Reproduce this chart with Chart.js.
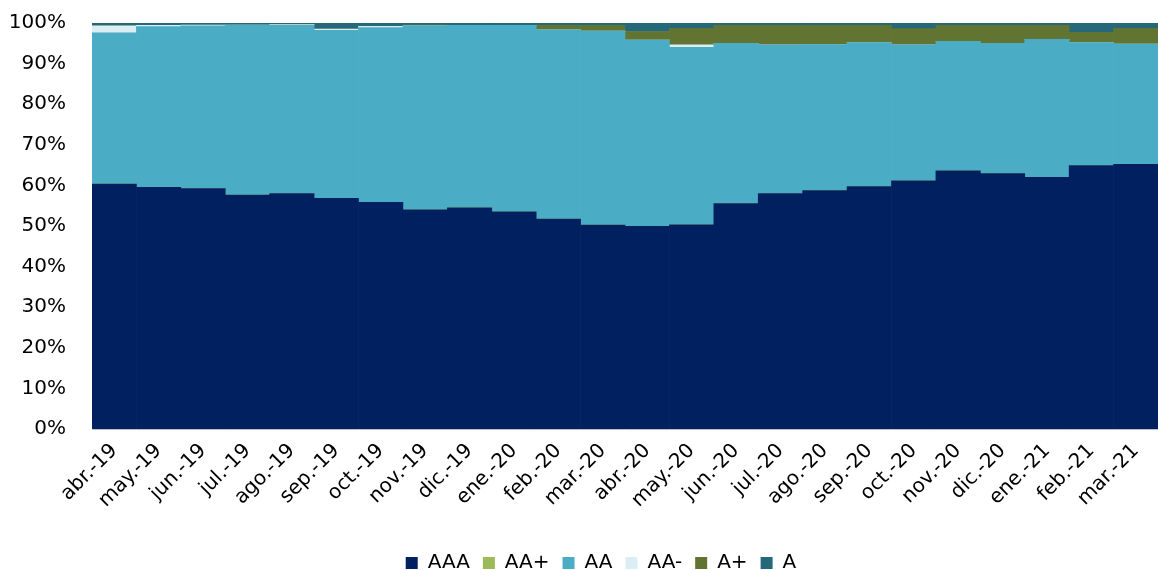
<!DOCTYPE html>
<html lang="es">
<head>
<meta charset="utf-8">
<title>Distribución por calificación</title>
<script src="https://cdn.jsdelivr.net/npm/chart.js@4/dist/chart.umd.min.js"></script>
<style>
  html, body { margin: 0; padding: 0; background: #fff; }
  #contenedor { width: 1158px; height: 570px; position: relative; }
</style>
</head>
<body>
<div id="contenedor"><canvas id="miGrafica"></canvas></div>
<script>
'use strict'

// MESES (EJE X)
const meses = ['abr.-19', 'may.-19', 'jun.-19', 'jul.-19', 'ago.-19', 'sep.-19', 'oct.-19', 'nov.-19',
  'dic.-19', 'ene.-20', 'feb.-20', 'mar.-20', 'abr.-20', 'may.-20', 'jun.-20', 'jul.-20',
  'ago.-20', 'sep.-20', 'oct.-20', 'nov.-20', 'dic.-20', 'ene.-21', 'feb.-21', 'mar.-21'];

// PORCENTAJES POR CALIFICACIÓN
const aaa = [60.3, 59.5, 59.2, 57.6, 58.0, 56.8, 55.8, 54.0, 54.5, 53.5, 51.7, 50.2,
  49.9, 50.3, 55.5, 58.0, 58.7, 59.7, 61.1, 63.6, 62.9, 62.0, 64.9, 65.2];
const aaMas = [0, 0, 0, 0, 0, 0, 0, 0, 0, 0, 0, 0, 0, 0, 0, 0, 0, 0, 0, 0, 0, 0, 0, 0];
const aa = [37.3, 39.6, 40.1, 41.9, 41.4, 41.4, 43.1, 45.3, 44.9, 45.9, 46.6, 47.8,
  45.9, 43.7, 39.5, 36.6, 36.0, 35.5, 33.5, 31.9, 32.1, 34.0, 30.3, 29.6];
const aaMenos = [1.7, 0.3, 0.2, 0, 0.2, 0.3, 0.3, 0, 0, 0, 0, 0,
  0, 0.6, 0, 0, 0, 0, 0, 0, 0, 0, 0, 0];
const aMas = [0, 0, 0, 0, 0, 0, 0, 0.2, 0, 0, 1.1, 1.4,
  2.1, 4.1, 4.4, 4.8, 4.7, 4.2, 4.0, 3.9, 4.4, 3.4, 2.5, 3.9];
const a = [0.7, 0.6, 0.5, 0.5, 0.4, 1.5, 0.8, 0.5, 0.6, 0.6, 0.6, 0.6,
  2.1, 1.3, 0.6, 0.6, 0.6, 0.6, 1.4, 0.6, 0.6, 0.6, 2.3, 1.3];

// MARCAS DEL EJE Y
const ticksY = [0, 10, 20, 30, 40, 50, 60, 70, 80, 90, 100];

const fuente = 'DejaVu Sans, Verdana, sans-serif';

function serie(nombre, datos, color) {
  return {
    label: nombre,
    data: datos,
    backgroundColor: color,
    borderWidth: 0,
    categoryPercentage: 1,
    barPercentage: 1
  };
}

// LA LEYENDA VA CENTRADA SOBRE EL ÁREA DE TRAZADO, NO SOBRE TODO EL LIENZO
const centrarLeyenda = {
  id: 'centrarLeyenda',
  afterLayout(chart) {
    const desplazamiento = 22;
    chart.legend.left += desplazamiento;
    chart.legend.right += desplazamiento;
  }
};

// CREAMOS LA GRÁFICA
function crearGrafica() {
  const ctx = document.getElementById('miGrafica').getContext('2d');

  new Chart(ctx, {
    type: 'bar',
    data: {
      labels: meses,
      datasets: [
        serie('AAA', aaa, '#002060'),
        serie('AA+', aaMas, '#9BBB59'),
        serie('AA', aa, '#4BACC6'),
        serie('AA-', aaMenos, '#DAEEF3'),
        serie('A+', aMas, '#617431'),
        serie('A', a, '#24687A')
      ]
    },
    plugins: [centrarLeyenda],
    options: {
      responsive: true,
      maintainAspectRatio: false,
      animation: false,
      layout: { padding: { top: 23, right: 0, bottom: -13, left: 0 } },
      scales: {
        x: {
          stacked: true,
          grid: { display: false },
          border: { display: true, color: '#BFBFBF' },
          afterFit: escala => { escala.height = 111; },
          ticks: {
            color: '#000',
            font: { family: fuente, size: 20 },
            maxRotation: 45,
            minRotation: 45,
            autoSkip: false,
            padding: 2
          }
        },
        y: {
          stacked: true,
          min: 0,
          max: 100,
          grid: { display: false },
          border: { display: true, color: '#D9D9D9' },
          afterBuildTicks: escala => { escala.ticks = ticksY.map(v => ({ value: v })); },
          afterFit: escala => {
            escala.width = 92;
            escala.paddingTop = 0;
            escala.paddingBottom = 0;
          },
          ticks: {
            color: '#000',
            font: { family: fuente, size: 20 },
            padding: 18,
            callback: v => v + '%'
          }
        }
      },
      plugins: {
        legend: {
          display: true,
          position: 'bottom',
          labels: {
            color: '#000',
            font: { family: fuente, size: 20 },
            boxWidth: 12,
            boxHeight: 12,
            padding: 13
          }
        },
        tooltip: { enabled: false }
      }
    }
  });
}

crearGrafica();
</script>
</body>
</html>
